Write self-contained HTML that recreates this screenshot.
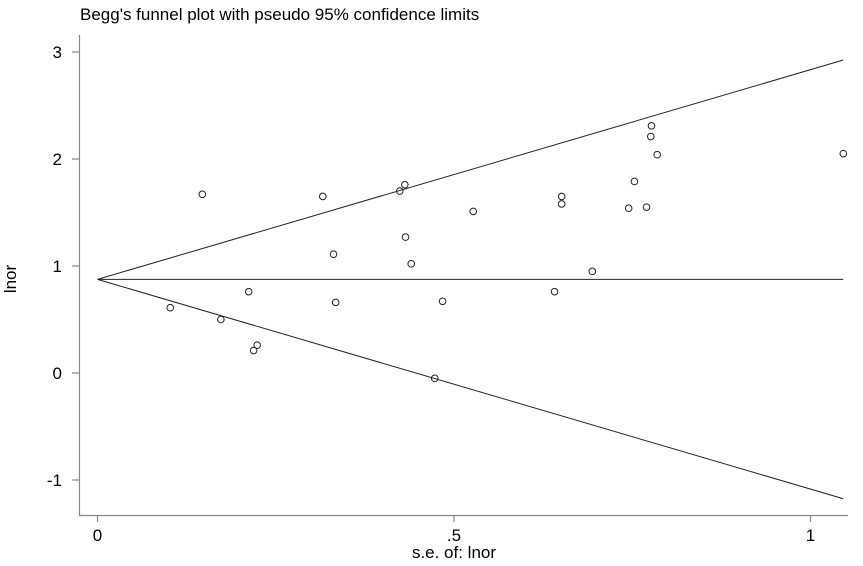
<!DOCTYPE html>
<html><head><meta charset="utf-8"><style>
body{margin:0;background:#fff;}
svg{display:block;font-family:"Liberation Sans",Arial,sans-serif;}
</style></head><body>
<svg id="chart" width="863" height="566" viewBox="0 0 863 566">
<text x="80" y="20" font-size="17">Begg's funnel plot with pseudo 95% confidence limits</text>
<line x1="79.5" y1="35" x2="79.5" y2="515.5" stroke="#888" stroke-width="1.2"/>
<line x1="79" y1="515.5" x2="848" y2="515.5" stroke="#888" stroke-width="1.2"/>
<text transform="translate(16,279) rotate(-90)" text-anchor="middle" font-size="17">lnor</text>
<text x="454" y="558" text-anchor="middle" font-size="17">s.e. of: lnor</text>
<g id="ticks"></g><g id="lines"></g><g id="points"></g>
</svg>
<script>
const xTicks=[0,0.5,1];
const xTickLabels=["0",".5","1"];
const yTicks=[-1,0,1,2,3];
const yTickLabels=["-1","0","1","2","3"];
const pooled=0.875;
const seMax=1.046;
const seValues=[0.102,0.147,0.173,0.212,0.219,0.224,0.316,0.331,0.334,0.424,0.431,0.432,0.440,0.473,0.484,0.527,0.641,0.651,0.651,0.694,0.745,0.753,0.770,0.776,0.777,0.785,1.046];
const lnorValues=[0.61,1.67,0.50,0.76,0.21,0.26,1.65,1.11,0.66,1.70,1.76,1.27,1.02,-0.05,0.67,1.51,0.76,1.65,1.58,0.95,1.54,1.79,1.55,2.21,2.31,2.04,2.05];
const NS="http://www.w3.org/2000/svg";
function xS(v){return 97.5+v*713;}
function yS(v){return 373-v*107;}
function mk(tag,attrs,parent){const e=document.createElementNS(NS,tag);for(const k in attrs)e.setAttribute(k,attrs[k]);document.getElementById(parent).appendChild(e);return e;}
xTicks.forEach((t,i)=>{
 const l=mk('line',{x1:xS(t),x2:xS(t),y1:515,y2:522,stroke:'#888','stroke-width':1.2},'ticks');
 
 
 const tx=mk('text',{x:xS(t),y:541,'text-anchor':'middle','font-size':17},'ticks');tx.textContent=xTickLabels[i];
 
 
});
yTicks.forEach((t,i)=>{
 const l=mk('line',{x1:72,x2:79,y1:yS(t),y2:yS(t),stroke:'#888','stroke-width':1.2},'ticks');
 
 
 const tx=mk('text',{x:62,y:yS(t)+6,'text-anchor':'end','font-size':17},'ticks');tx.textContent=yTickLabels[i];
 
 
});
const c=mk('line',{x1:xS(0),y1:yS(pooled),x2:xS(seMax),y2:yS(pooled),stroke:'#222','stroke-width':1},'lines');


const u=mk('line',{x1:xS(0),y1:yS(pooled),x2:xS(seMax),y2:yS(pooled+1.96*seMax),stroke:'#222','stroke-width':1},'lines');


const lo=mk('line',{x1:xS(0),y1:yS(pooled),x2:xS(seMax),y2:yS(pooled-1.96*seMax),stroke:'#222','stroke-width':1},'lines');


seValues.forEach((s,i)=>{
 const p=mk('circle',{cx:xS(s),cy:yS(lnorValues[i]),r:3.3,fill:'none',stroke:'#222','stroke-width':1},'points');
 
 
});
</script>
</body></html>
